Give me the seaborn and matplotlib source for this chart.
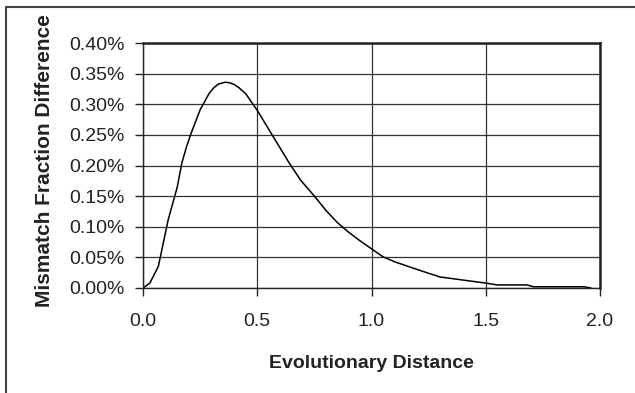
import numpy as np
import pandas as pd
import matplotlib
matplotlib.use("Agg")
import matplotlib.pyplot as plt
import seaborn as sns
from matplotlib.lines import Line2D
from matplotlib.ticker import FuncFormatter

# values (distance, mismatch fraction difference in %)
distance = [0.00, 0.03, 0.067, 0.11, 0.15, 0.17, 0.19, 0.21, 0.25, 0.29, 0.31,
            0.33, 0.36, 0.38, 0.40, 0.42, 0.45, 0.50, 0.57, 0.64, 0.69, 0.75,
            0.80, 0.85, 0.90, 0.95, 1.00, 1.05, 1.10, 1.17, 1.25, 1.30, 1.40,
            1.50, 1.55, 1.68, 1.71, 1.93, 1.96]
mismatch_pct = [0.000, 0.008, 0.035, 0.111, 0.165, 0.204, 0.230, 0.252, 0.291,
                0.318, 0.327, 0.333, 0.336, 0.335, 0.332, 0.327, 0.317, 0.290,
                0.247, 0.204, 0.176, 0.150, 0.127, 0.107, 0.091, 0.077, 0.064,
                0.051, 0.043, 0.034, 0.024, 0.018, 0.013, 0.008, 0.005, 0.005,
                0.002, 0.002, 0.000]
x_ticks = [0.0, 0.5, 1.0, 1.5, 2.0]
y_ticks = [0.0, 0.05, 0.10, 0.15, 0.20, 0.25, 0.30, 0.35, 0.40]

df = pd.DataFrame({"distance": distance, "mismatch": mismatch_pct})

sns.set_theme(style="white")
plt.rcParams["font.family"] = ["Liberation Sans", "DejaVu Sans"]

fig = plt.figure(figsize=(6.35, 3.93), dpi=100)
ax = fig.add_axes([143 / 635, 1 - 288 / 393, 457 / 635, 245 / 393])

sns.lineplot(data=df, x="distance", y="mismatch", ax=ax, color="black", linewidth=1.1)

ax.set_xlim(0, 2.0)
ax.set_ylim(0, 0.40)
ax.set_xticks(x_ticks)
ax.set_yticks(y_ticks)
ax.xaxis.set_major_formatter(FuncFormatter(lambda v, p: f"{v:.1f}"))
ax.yaxis.set_major_formatter(FuncFormatter(lambda v, p: f"{v:.2f}%"))
ax.grid(True, color="#333333", linewidth=0.9)
ax.tick_params(axis="both", direction="out", length=6, width=1, color="#222222",
               labelsize=14, labelcolor="#222222", bottom=True, left=True)
ax.tick_params(axis="x", pad=12)
ax.tick_params(axis="y", pad=7)
for side, sp in ax.spines.items():
    sp.set_color("#222222")
    sp.set_linewidth(1.0 if side in ("left", "bottom") else 1.8)

ax.set_xlabel("Evolutionary Distance", fontsize=14, fontweight="bold", color="#222222", labelpad=18)
ax.set_ylabel("Mismatch Fraction Difference", fontsize=15, fontweight="bold", color="#222222")
ax.yaxis.set_label_coords(-0.194, 0.52)

# chart-area frame, partly cropped in the reference
fig.add_artist(Line2D([6 / 635, 1.0], [1 - 7 / 393, 1 - 7 / 393], transform=fig.transFigure,
                      color="#444444", linewidth=1.5))
fig.add_artist(Line2D([6 / 635, 6 / 635], [0.0, 1 - 7 / 393], transform=fig.transFigure,
                      color="#444444", linewidth=1.5))

fig.savefig("out.png", dpi=100, facecolor="white")
